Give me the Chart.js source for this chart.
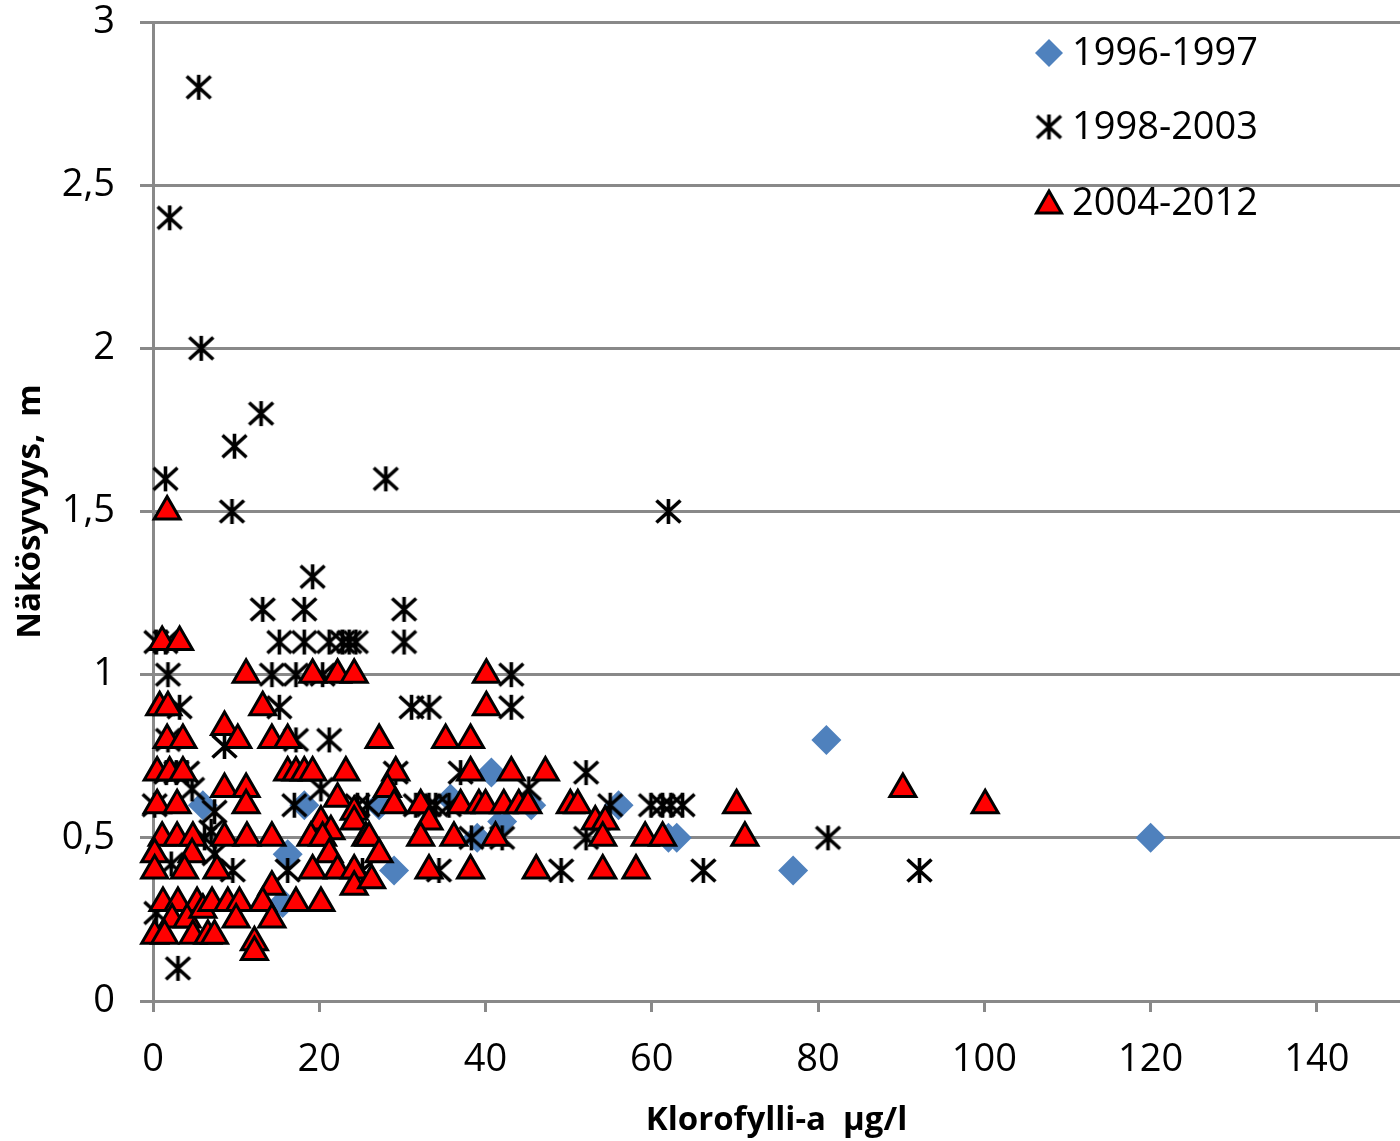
<!DOCTYPE html>
<html lang="fi">
<head>
<meta charset="UTF-8">
<title>Näkösyvyys ja klorofylli-a</title>
<script src="https://cdn.jsdelivr.net/npm/chart.js"></script>
<style>
  html, body { margin: 0; padding: 0; background: #fff; overflow: hidden; }
  #wrap { width: 1400px; height: 1141px; }
  canvas { display: block; }
</style>
</head>
<body>
<div id="wrap"><canvas id="chart" width="1400" height="1141"></canvas></div>
<script>
// sarjat
const seriesLabels = ['1996-1997', '1998-2003', '2004-2012'];
const xTicks = [0, 20, 40, 60, 80, 100, 120, 140];
const yTicks = [0, 0.5, 1, 1.5, 2, 2.5, 3];

// [klorofylli-a, näkösyvyys]
const kausi1996 = [
  [6, 0.6], [15.6, 0.3], [16.2, 0.45], [18.2, 0.6], [27.2, 0.6], [29, 0.4],
  [35.8, 0.62], [39, 0.5], [40.7, 0.7], [42, 0.55], [45.5, 0.6], [56, 0.6],
  [62, 0.5], [63, 0.5], [77, 0.4], [81, 0.8], [120, 0.5]
];

const kausi1998 = [
  [5.5, 2.8], [2, 2.4], [5.8, 2.0], [9.8, 1.7], [13, 1.8], [1.5, 1.6], [9.5, 1.5],
  [28, 1.6], [62, 1.5], [19.2, 1.3], [13.2, 1.2], [18.2, 1.2], [30.2, 1.2],
  [0.4, 1.1], [1.5, 1.1], [15.2, 1.1], [18.2, 1.1], [21.2, 1.1], [22.8, 1.1],
  [23.6, 1.1], [24.4, 1.1], [30.2, 1.1],
  [1.8, 1.0], [14.3, 1.0], [17.2, 1.0], [20.4, 1.0], [43.1, 1.0],
  [3.2, 0.9], [15.2, 0.9], [31.1, 0.9], [33.2, 0.9], [43.1, 0.9],
  [1.8, 0.8], [8.6, 0.78], [17.2, 0.8], [21.2, 0.8],
  [1.6, 0.7], [2.8, 0.7], [4.1, 0.7], [29.2, 0.7], [37, 0.7], [52.1, 0.7],
  [4.7, 0.65], [20.2, 0.65], [45.2, 0.65],
  [0.2, 0.6], [7.4, 0.58], [17, 0.6], [24.6, 0.6], [25.8, 0.6], [31.6, 0.6],
  [33.2, 0.6], [34, 0.6], [35.6, 0.6], [55, 0.6], [59.9, 0.6], [61.3, 0.6],
  [62.3, 0.6], [63.7, 0.6],
  [6.2, 0.5], [7, 0.52], [38.3, 0.5], [42, 0.5], [52.1, 0.5], [81.2, 0.5],
  [7.4, 0.45],
  [2.2, 0.42], [9.6, 0.4], [16.2, 0.4], [25.2, 0.4], [34.4, 0.4], [49.1, 0.4],
  [66.2, 0.4], [92.2, 0.4],
  [0.4, 0.27], [3, 0.1]
];

const kausi2004 = [
  [1.7, 1.5],
  [1.1, 1.1], [3.2, 1.1],
  [0.8, 0.9], [1.8, 0.9],
  [1.7, 0.8], [3.6, 0.8],
  [0.5, 0.7], [2, 0.7], [3.6, 0.7],
  [0.5, 0.6], [2.9, 0.6],
  [1.1, 0.5], [2.9, 0.5], [4.8, 0.5],
  [0.2, 0.45], [4.7, 0.45],
  [0.2, 0.4], [3.8, 0.4],
  [1.2, 0.3], [3, 0.3], [5.3, 0.3],
  [2.3, 0.25], [4.1, 0.25],
  [0.2, 0.2], [1.4, 0.2], [4.8, 0.2],
  [8.6, 0.84], [10.2, 0.8],
  [8.6, 0.65], [11.2, 0.65], [11.2, 0.6],
  [8.6, 0.5], [11.3, 0.5], [7.7, 0.4],
  [6, 0.28], [7.1, 0.3], [9, 0.3], [10.4, 0.3], [10, 0.25],
  [6.6, 0.2], [7.4, 0.2], [12.2, 0.18], [12.2, 0.15],
  [11.2, 1.0], [13.2, 0.9], [14.3, 0.8], [16.2, 0.8],
  [16.2, 0.7], [17.2, 0.7], [18.2, 0.7], [19.2, 0.7], [23.2, 0.7],
  [22.2, 0.62], [24.2, 0.58], [20.2, 0.55], [21.4, 0.52], [24.2, 0.55],
  [14.3, 0.5], [19, 0.5], [20.4, 0.5], [25.6, 0.5],
  [21.2, 0.45],
  [19.2, 0.4], [22.2, 0.4], [24.2, 0.4],
  [14.3, 0.35], [24.2, 0.35], [26.3, 0.37],
  [13.2, 0.3], [17.2, 0.3], [20.2, 0.3], [14.3, 0.25],
  [19.2, 1.0], [22.2, 1.0], [24.2, 1.0],
  [27.2, 0.8], [29.2, 0.7], [28.2, 0.65],
  [29, 0.6], [32.2, 0.6], [37, 0.6], [39.2, 0.6], [40, 0.6], [42.2, 0.6],
  [44, 0.6], [45.1, 0.6], [50.2, 0.6], [51.1, 0.6],
  [33.2, 0.55], [53.2, 0.55], [54.4, 0.55],
  [26, 0.5], [32.2, 0.5], [36.2, 0.5], [41.2, 0.5], [54.1, 0.5],
  [27.2, 0.45],
  [33.2, 0.4], [38.2, 0.4], [46.1, 0.4], [54.1, 0.4], [58.1, 0.4],
  [40.1, 1.0], [40.1, 0.9],
  [35.2, 0.8], [38.2, 0.8],
  [38.2, 0.7], [43.1, 0.7], [47.2, 0.7],
  [59.2, 0.5], [61.3, 0.5],
  [70.2, 0.6], [71.2, 0.5], [90.2, 0.65], [100.1, 0.6]
];

const GRID = '#898989';
const FONT = "'Open Sans', 'Noto Sans', sans-serif";

// tähtimerkki: pystyviiva + X
function makeStar() {
  const c = document.createElement('canvas');
  c.width = 29; c.height = 27;
  const g = c.getContext('2d');
  g.strokeStyle = '#000';
  g.lineWidth = 3.6;
  g.beginPath();
  g.moveTo(14.5, 1); g.lineTo(14.5, 26);
  g.moveTo(2.5, 2.5); g.lineTo(26.5, 24.5);
  g.moveTo(26.5, 2.5); g.lineTo(2.5, 24.5);
  g.stroke();
  return c;
}
const starImg = makeStar();

const toPoints = arr => arr.map(p => ({ x: p[0], y: p[1] }));

// selite kuvaajan sisällä oikeassa yläkulmassa
const insideLegend = {
  id: 'insideLegend',
  afterDraw(chart) {
    const ctx = chart.ctx;
    const area = chart.chartArea;
    const mx = 1049;
    const rows = [area.top + 31, area.top + 105, area.top + 181];
    ctx.save();
    // vinoneliö
    ctx.fillStyle = '#4F81BD';
    ctx.beginPath();
    ctx.moveTo(mx, rows[0] - 14); ctx.lineTo(mx + 14, rows[0]);
    ctx.lineTo(mx, rows[0] + 14); ctx.lineTo(mx - 14, rows[0]);
    ctx.closePath(); ctx.fill();
    // tähti
    ctx.drawImage(starImg, mx - starImg.width / 2, rows[1] - starImg.height / 2);
    // kolmio
    ctx.fillStyle = '#FF0000';
    ctx.strokeStyle = '#000';
    ctx.lineWidth = 3;
    ctx.beginPath();
    ctx.moveTo(mx, rows[2] - 12); ctx.lineTo(mx + 12.5, rows[2] + 10);
    ctx.lineTo(mx - 12.5, rows[2] + 10); ctx.closePath();
    ctx.fill(); ctx.stroke();

    ctx.fillStyle = '#000';
    ctx.font = '38px ' + FONT;
    ctx.textAlign = 'left';
    ctx.textBaseline = 'middle';
    seriesLabels.forEach((t, i) => ctx.fillText(t, mx + 23, rows[i] + 1));
    ctx.restore();
  }
};

new Chart(document.getElementById('chart'), {
  type: 'scatter',
  data: {
    datasets: [
      {
        label: seriesLabels[0],
        data: toPoints(kausi1996),
        pointStyle: 'rectRot',
        pointRadius: 15,
        backgroundColor: '#4F81BD',
        borderWidth: 0,
        order: 2,
        clip: false
      },
      {
        label: seriesLabels[1],
        data: toPoints(kausi1998),
        pointStyle: starImg,
        pointRadius: 13,
        order: 1,
        clip: false
      },
      {
        label: seriesLabels[2],
        data: toPoints(kausi2004),
        pointStyle: 'triangle',
        pointRadius: 15,
        backgroundColor: '#FF0000',
        borderColor: '#000000',
        borderWidth: 3,
        order: 0,
        clip: false
      }
    ]
  },
  options: {
    responsive: false,
    animation: false,
    devicePixelRatio: 1,
    events: [],
    layout: {
      autoPadding: false,
      // kuva-ala jatkuu hieman kuvan oikean reunan yli
      padding: { top: 22, right: -5, bottom: 0, left: 0 }
    },
    plugins: {
      legend: { display: false },
      tooltip: { enabled: false }
    },
    scales: {
      x: {
        type: 'linear',
        min: 0,
        max: 150,
        afterBuildTicks: s => { s.ticks = xTicks.map(v => ({ value: v })); },
        afterFit: s => { s.height = 140; s.paddingLeft = 0; s.paddingRight = 0; },
        ticks: {
          color: '#000',
          font: { family: FONT, size: 38 },
          padding: 25
        },
        grid: {
          drawOnChartArea: false,
          drawTicks: true,
          tickLength: 11,
          color: GRID,
          lineWidth: 3
        },
        border: { color: GRID, width: 3 },
        title: {
          display: true,
          text: 'Klorofylli-a  µg/l',
          color: '#000',
          font: { family: FONT, size: 33, weight: 'bold' },
          padding: { top: 0, bottom: 1 }
        }
      },
      y: {
        type: 'linear',
        min: 0,
        max: 3,
        afterBuildTicks: s => { s.ticks = yTicks.map(v => ({ value: v })); },
        afterFit: s => { s.width = 153; s.paddingTop = 0; s.paddingBottom = 0; },
        ticks: {
          color: '#000',
          font: { family: FONT, size: 38 },
          padding: 25,
          callback: v => String(v).replace('.', ',')
        },
        grid: {
          color: GRID,
          lineWidth: 3,
          tickLength: 13
        },
        border: { color: GRID, width: 3 },
        title: {
          display: true,
          text: 'Näkösyvyys,  m',
          color: '#000',
          font: { family: FONT, size: 33, weight: 'bold' },
          padding: { top: 11, bottom: 0 }
        }
      }
    }
  },
  plugins: [insideLegend]
});
</script>
</body>
</html>
